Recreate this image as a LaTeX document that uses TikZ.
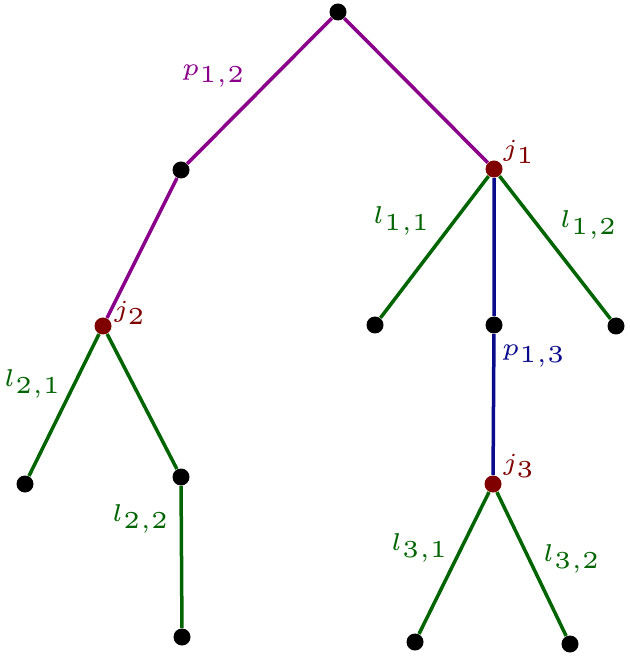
\documentclass[tikz,border=0pt]{standalone}
\usepackage{xcolor}
\definecolor{cpur}{RGB}{139,0,139}
\definecolor{cgrn}{RGB}{0,100,0}
\definecolor{cblu}{RGB}{10,10,140}
\definecolor{cred}{RGB}{128,0,0}
\newcommand\mylbl[1]{\scalebox{1.95}{\tiny$#1$}}
\begin{document}
\begin{tikzpicture}[x=0.4pt,y=-0.4pt,
  dot/.style={circle,fill=black,inner sep=0pt,minimum size=6.8pt},
  jdot/.style={circle,fill=cred,inner sep=0pt,minimum size=6.8pt},
  edge/.style={line width=1.4pt},
  lab/.style={inner sep=0pt}]
\useasboundingbox (0,0) rectangle (629,657);
\node[dot] (r) at (338,12) {};
\node[dot] (a) at (181,170) {};
\node[jdot] (j1) at (494,169) {};
\node[jdot] (j2) at (103,326) {};
\node[dot] (l21) at (25,484) {};
\node[dot] (b) at (181,477) {};
\node[dot] (l22) at (182,637) {};
\node[dot] (l11) at (375,325) {};
\node[dot] (c) at (494,325) {};
\node[dot] (l12) at (616,326) {};
\node[jdot] (j3) at (493,484) {};
\node[dot] (l31) at (415,642) {};
\node[dot] (l32) at (570,644) {};

\draw[edge,cpur] (r) -- (a) -- (j2);
\draw[edge,cpur] (r) -- (j1);
\draw[edge,cgrn] (j1) -- (l11);
\draw[edge,cgrn] (j1) -- (l12);
\draw[edge,cblu] (j1) -- (c) -- (j3);
\draw[edge,cgrn] (j2) -- (l21);
\draw[edge,cgrn] (j2) -- (b) -- (l22);
\draw[edge,cgrn] (j3) -- (l31);
\draw[edge,cgrn] (j3) -- (l32);

\node[lab,text=cpur] (tp12) at (214,76) {\mylbl{p_{1,2}}};
\node[lab,text=cred] (tj1) at (519,152) {\mylbl{j_1}};
\node[lab,text=cgrn] (tl11) at (402,221) {\mylbl{l_{1,1}}};
\node[lab,text=cgrn] (tl12) at (589,225) {\mylbl{l_{1,2}}};
\node[lab,text=cred] (tj2) at (130,313) {\mylbl{j_2}};
\node[lab,text=cgrn] (tl21) at (33,384) {\mylbl{l_{2,1}}};
\node[lab,text=cblu] (tp13) at (534,356) {\mylbl{p_{1,3}}};
\node[lab,text=cgrn] (tl22) at (141,519) {\mylbl{l_{2,2}}};
\node[lab,text=cred] (tj3) at (519,466) {\mylbl{j_3}};
\node[lab,text=cgrn] (tl31) at (420,548) {\mylbl{l_{3,1}}};
\node[lab,text=cgrn] (tl32) at (572,559) {\mylbl{l_{3,2}}};
\end{tikzpicture}
\end{document}
